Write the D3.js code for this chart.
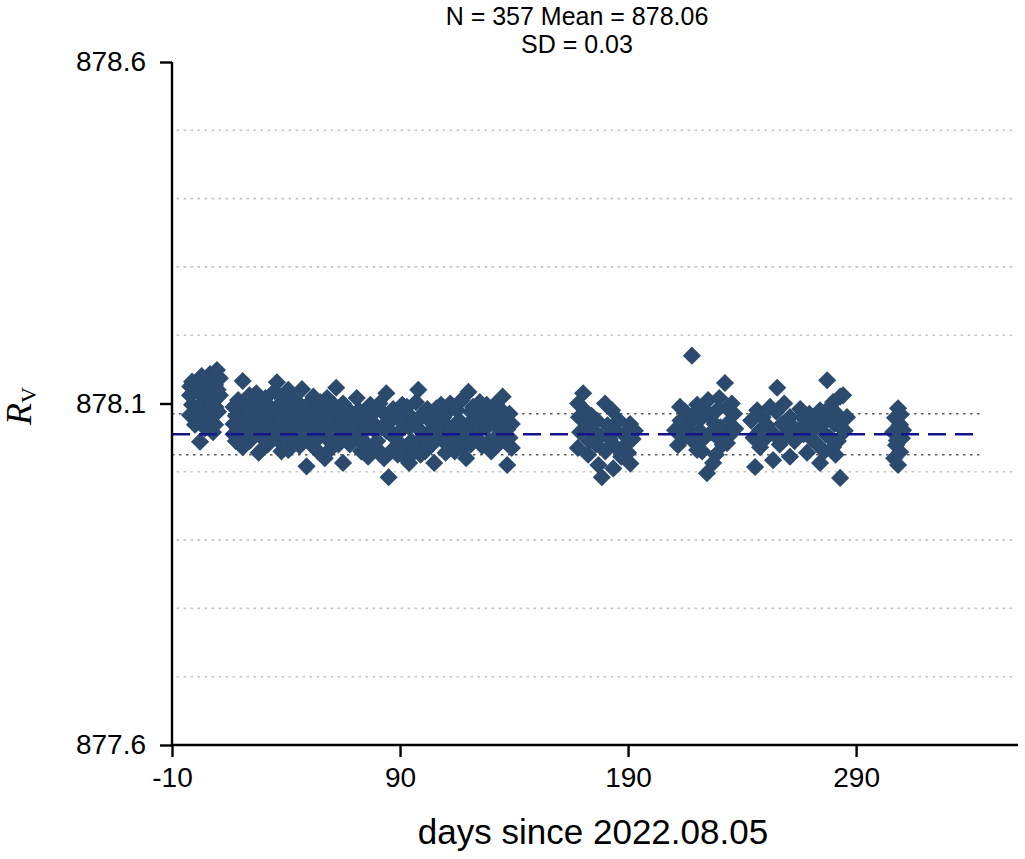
<!DOCTYPE html>
<html><head><meta charset="utf-8">
<script src="https://cdn.jsdelivr.net/npm/d3@7"></script>
<style>body{margin:0;background:#fff}svg{display:block}</style>
</head><body>
<svg id="chart" width="1025" height="859"></svg>
<script>
// ---- data ----
const titleLines = ["N = 357 Mean = 878.06", "SD = 0.03"];
const xTicks = [-10, 90, 190, 290];
const yTicks = [877.6, 878.1, 878.6];
const yGrid = [877.7, 877.8, 877.9, 878.0, 878.2, 878.3, 878.4, 878.5];
const meanValue = 878.055;
const sdValue = 0.03;
const xLabel = "days since 2022.08.05";

const seg1 = [[-1.2,878.132],[2.3,878.137],[6.7,878.143],[9.7,878.149],[-2.1,878.112],[1.4,878.117],[5.4,878.127],[8.9,878.127],[11,878.137],[-1.2,878.098],[3.6,878.102],[7.5,878.105],[11,878.112],[-2.1,878.083],[2.3,878.086],[6.7,878.079],[10.2,878.088],[0.1,878.069],[4.5,878.064],[8.9,878.069],[2.3,878.044],[8,878.058],[-2,878.125],[4,878.120],[9,878.095],[1,878.075],[6,878.090],[10,878.120],[3,878.140],[7,878.110]];

const seg2 = [[17,878.095],[17,878.070],[17,878.055],[18,878.082],[18,878.045],[19,878.105],[19,878.062],[20,878.090],[20,878.075],[20,878.050],[21,878.133],[21,878.036],[22,878.098],[22,878.068],[23,878.080],[23,878.058],[24,878.112],[24,878.088],[24,878.045],[25,878.070],[25,878.052],[26,878.095],[26,878.063],[27,878.115],[27,878.080],[28,878.028],[28,878.058],[29,878.100],[29,878.072],[30,878.088],[30,878.048],[31,878.108],[31,878.065],[32,878.078],[32,878.040],[33,878.095],[33,878.060],[34,878.070],[34,878.050],[35,878.118],[35,878.085],[36,878.131],[36,878.062],[37,878.098],[37,878.045],[38,878.075],[38,878.030],[39,878.110],[39,878.088],[40,878.068],[40,878.052],[41,878.120],[41,878.032],[42,878.095],[42,878.072],[43,878.060],[43,878.042],[44,878.105],[44,878.080],[45,878.088],[45,878.058],[46,878.070],[46,878.038],[47,878.121],[47,878.095],[48,878.078],[48,878.050],[49,878.008],[49,878.063],[50,878.100],[50,878.085],[51,878.072],[51,878.040],[52,878.110],[52,878.058],[53,878.090],[53,878.066],[54,878.078],[54,878.030],[55,878.102],[55,878.052],[56,878.085],[56,878.068],[57,878.020],[57,878.075],[58,878.108],[58,878.060],[59,878.092],[59,878.045],[60,878.070],[60,878.035],[61,878.098],[61,878.082],[62,878.123],[62,878.058],[63,878.088],[63,878.040],[64,878.075],[64,878.065],[65,878.013],[65,878.100],[66,878.085],[66,878.050],[67,878.070],[67,878.092],[68,878.060],[68,878.040]];

const seg3 = [[69,878.085],[69,878.055],[70,878.070],[71,878.108],[71,878.062],[72,878.090],[72,878.048],[73,878.075],[73,878.030],[74,878.058],[75,878.080],[75,878.042],[76,878.022],[76,878.065],[77,878.098],[78,878.072],[78,878.035],[79,878.088],[79,878.060],[80,878.045],[81,878.100],[81,878.030],[82,878.065],[83,878.085],[83,878.020],[84,878.115],[84,878.060],[85,877.992],[86,878.075],[86,878.030],[87,878.092],[87,878.055],[88,878.048],[89,878.025],[89,878.082],[90,878.060],[90,878.040],[91,878.098],[91,878.072],[92,878.035],[93,878.095],[93,878.018],[94,878.013],[94,878.065],[95,878.080],[95,878.045],[96,878.030],[97,878.102],[97,878.072],[98,878.120],[98,878.040],[99,878.025],[99,878.060],[100,878.085],[100,878.050],[101,878.030],[102,878.092],[102,878.045],[103,878.075],[103,878.058],[104,878.040],[104,878.085],[105,878.013],[105,878.068],[106,878.093],[106,878.052],[107,878.078],[108,878.062],[108,878.098],[109,878.045],[109,878.080],[110,878.070],[110,878.028],[111,878.088],[111,878.055],[112,878.100],[112,878.040],[113,878.065],[114,878.050],[114,878.030],[115,878.090],[115,878.060],[116,878.075],[116,878.045],[117,878.105],[117,878.035],[118,878.062],[119,878.020],[119,878.050],[120,878.117],[120,878.070],[121,878.088],[121,878.040],[122,878.060],[122,878.095],[123,878.075],[124,878.048],[124,878.085],[125,878.102],[125,878.062],[126,878.070],[126,878.038],[127,878.090],[128,878.098],[128,878.065],[129,878.080],[129,878.045],[130,878.030],[131,878.088],[131,878.072],[132,878.050],[132,878.100],[133,878.075],[133,878.040],[134,878.092],[134,878.058],[135,878.110],[135,878.068],[136,878.080],[136,878.045],[137,878.010],[137,878.062],[138,878.085],[138,878.050],[139,878.070],[139,878.035]];

const seg4 = [[168.1,878.100],[170.3,878.115],[168.5,878.080],[169,878.058],[168,878.035],[171,878.090],[172,878.068],[173,878.045],[172.5,878.025],[174,878.082],[175,878.060],[176,878.040],[176.4,878.075],[177,878.010],[178,878.052],[179.9,878.100],[180,878.030],[181,878.068],[182,878.048],[183,878.090],[183.5,878.005],[184,878.060],[185,878.035],[186,878.075],[187,878.022],[188,878.055],[189,878.040],[190.9,878.070],[191,878.012],[192,878.048],[190,878.028],[178.5,877.992],[193,878.060]];

const seg5 = [[218,878.170],[232.5,878.130],[212.8,878.095],[220.3,878.098],[225.1,878.105],[233.4,878.093],[210.6,878.061],[217.5,878.073],[226,878.080],[211.9,878.039],[220.3,878.032],[233.4,878.042],[227.3,878.013],[224.6,877.998],[229,878.051],[213,878.075],[214.5,878.050],[215,878.088],[216,878.062],[218.5,878.045],[219,878.085],[221.5,878.060],[222,878.078],[223,878.048],[224,878.090],[226.5,878.058],[228,878.070],[229.5,878.092],[230.5,878.065],[231.5,878.040],[234,878.072],[235,878.055],[222.5,878.030],[228.5,878.025],[230,878.108],[236.5,878.085],[237,878.063],[235.5,878.100]];

const seg6 = [[255.4,878.123],[277.3,878.134],[283,878.110],[279.9,878.102],[246.6,878.090],[252.3,878.095],[261,878.080],[266.8,878.079],[274.2,878.090],[247.9,878.061],[264.1,878.061],[283,878.066],[245.7,878.007],[253.6,878.017],[261,878.022],[268.5,878.028],[274.2,878.013],[283,877.991],[247.9,878.036],[279.9,878.036],[284.3,878.112],[278.6,878.095],[244,878.075],[245,878.050],[249,878.080],[250,878.048],[251,878.068],[254,878.055],[255,878.088],[256.5,878.040],[257.5,878.070],[258.5,878.100],[259.5,878.055],[262.5,878.065],[263,878.045],[265.5,878.092],[267,878.055],[268,878.070],[269.5,878.085],[270.5,878.048],[271.5,878.062],[272.5,878.075],[273,878.040],[275.5,878.070],[276.5,878.055],[277.5,878.082],[278.5,878.050],[280.5,878.070],[281.5,878.085],[282,878.045],[285,878.060],[286,878.080],[281,878.025],[276,878.030]];

const seg7 = [[308.4,878.093],[307.1,878.079],[309.3,878.069],[306.2,878.058],[310.1,878.049],[307.5,878.039],[309.3,878.029],[306.7,878.020],[308.4,878.010],[310.6,878.061],[307.9,878.046],[309.6,878.084]];

const points = [].concat(seg1, seg2, seg3, seg4, seg5, seg6, seg7);

// ---- chart ----
const svg = d3.select("#chart");
const x = d3.scaleLinear().domain([-10, 361]).range([172, 1018]);
const y = d3.scaleLinear().domain([877.6, 878.6]).range([745, 62]);

// grid
svg.append("g").selectAll("line").data(yGrid).join("line")
  .attr("x1", x(-8)).attr("x2", x(360))
  .attr("y1", d => y(d)).attr("y2", d => y(d))
  .attr("stroke", "#c4c4c4").attr("stroke-width", 1.6)
  .attr("stroke-dasharray", "2.5,4.5");

// SD lines
svg.append("g").selectAll("line").data([meanValue + sdValue, meanValue - sdValue]).join("line")
  .attr("x1", x(-10)).attr("x2", x(345))
  .attr("y1", d => y(d)).attr("y2", d => y(d))
  .attr("stroke", "#5a5a5a").attr("stroke-width", 1.6)
  .attr("stroke-dasharray", "2.5,4.5");

// points
const sym = d3.symbol().type(d3.symbolSquare).size(165);
svg.append("g").selectAll("path").data(points).join("path")
  .attr("d", sym)
  .attr("transform", d => `translate(${x(d[0])},${y(d[1])}) rotate(45)`)
  .attr("fill", "#2c4a6e");

// mean line
svg.append("line")
  .attr("x1", x(-10)).attr("x2", x(345))
  .attr("y1", y(meanValue)).attr("y2", y(meanValue))
  .attr("stroke", "#14148c").attr("stroke-width", 2.6)
  .attr("stroke-dasharray", "18,9");

// axes
const font = "'Liberation Sans', Arial, sans-serif";
const xAxis = svg.append("g").attr("transform", "translate(0,745)")
  .call(d3.axisBottom(x).tickValues(xTicks).tickSize(12).tickPadding(10).tickFormat(d => String(d)));
const yAxis = svg.append("g").attr("transform", "translate(172,0)")
  .call(d3.axisLeft(y).tickValues(yTicks).tickSize(12).tickPadding(14).tickFormat(d3.format(".1f")));
[xAxis, yAxis].forEach(a => {
  a.select(".domain").attr("stroke", "#000").attr("stroke-width", 2.4);
  a.selectAll(".tick line").attr("stroke", "#000").attr("stroke-width", 2.4);
  a.selectAll(".tick text").attr("fill", "#000").style("font-family", font).style("font-size", "28px");
});
xAxis.select(".domain").attr("d", "M172,0H1018");
yAxis.select(".domain").attr("d", "M0,62V745");

// titles
svg.append("g").selectAll("text").data(titleLines).join("text")
  .attr("x", 577).attr("y", (d, i) => 25 + i * 28)
  .attr("text-anchor", "middle")
  .style("font-family", font).style("font-size", "25px").attr("fill", "#000")
  .text(d => d);

svg.append("text").attr("x", 593).attr("y", 844).attr("text-anchor", "middle")
  .style("font-family", font).style("font-size", "35px").attr("fill", "#000")
  .text(xLabel);

const yl = svg.append("text").attr("transform", "translate(31,406) rotate(-90)")
  .attr("text-anchor", "middle")
  .style("font-family", "'Liberation Serif', 'DejaVu Serif', serif").attr("fill", "#000");
yl.append("tspan").style("font-style", "italic").style("font-size", "36px").text("R");
yl.append("tspan").attr("dy", 5).style("font-size", "22px").text("V");
</script>
</body></html>
